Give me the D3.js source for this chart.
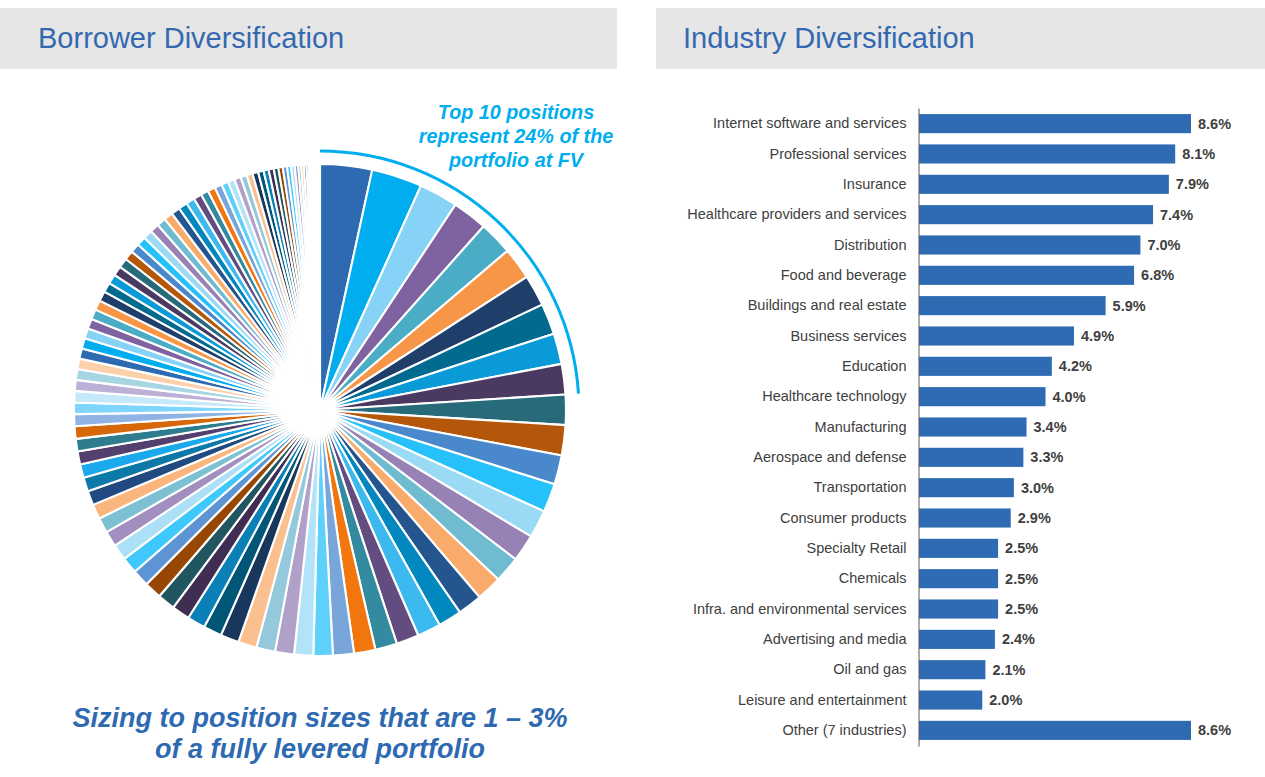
<!DOCTYPE html>
<html>
<head>
<meta charset="utf-8">
<script src="https://cdn.jsdelivr.net/npm/d3@7"></script>
<style>
  body { margin: 0; background: #fff; }
  svg { display: block; font-family: "Liberation Sans", Arial, sans-serif; }
</style>
</head>
<body>
<svg id="chart" width="1265" height="777"></svg>
<script>
/*** DATA ***/
// borrower position sizes (% of portfolio at FV), largest first
var positionSizes = [
  3.42, 3.33, 2.56, 2.31, 2.22, 2.11, 2.06, 2.03, 2.03, 2.00,
  1.99, 1.99, 1.93, 1.88, 1.84, 1.79, 1.73, 1.67, 1.61, 1.55,
  1.55, 1.49, 1.44, 1.41, 1.38, 1.28, 1.25, 1.25, 1.24, 1.22,
  1.22, 1.21, 1.19, 1.18, 1.17, 1.14, 1.11, 1.08, 1.06, 1.03,
  1.00, 0.97, 0.94, 0.92, 0.89, 0.86, 0.83, 0.82, 0.79, 0.76,
  0.75, 0.72, 0.71, 0.69, 0.68, 0.68, 0.67, 0.66, 0.66, 0.65,
  0.65, 0.64, 0.64, 0.63, 0.63, 0.62, 0.61, 0.61, 0.60, 0.60,
  0.59, 0.59, 0.58, 0.58, 0.57, 0.53, 0.51, 0.49, 0.48, 0.46,
  0.44, 0.43, 0.41, 0.39, 0.38, 0.36, 0.34, 0.33, 0.31, 0.29,
  0.28, 0.26, 0.24, 0.23, 0.19, 0.18, 0.17, 0.15, 0.14, 0.13,
  0.11, 0.10, 0.08, 0.07, 0.06, 0.04
];
var topPositions = 10;

// slice colours, repeated in this order
var sliceColors = [
  '#2e6ab1', '#00aeef', '#86d3f7', '#7f63a1', '#4bacc6', '#f79646',
  '#1f3f6a', '#006b8f', '#0a9ad8', '#4a3960', '#276b7b', '#b5570a',
  '#4a88cc', '#26c1fb', '#9bdaf5', '#9781b5', '#6fbcd1', '#f9ab6c',
  '#24558f', '#0088bf', '#3cb9ef', '#634d80', '#348a9f', '#f1760d',
  '#78a6da', '#5dd0fb', '#b2e3f8', '#b1a0c8', '#93c9da', '#fac090',
  '#19365c', '#005676', '#0a80b6', '#3f2e52', '#215661', '#984604',
  '#5d95d4', '#3ec8fc', '#ace0f7', '#a28fbf', '#7dc0d3', '#fbb67d',
  '#214a80', '#0c79a8', '#1aa9ec', '#54406e', '#2e7d8e', '#d6680a',
  '#8fb4e3', '#7fd5fb', '#c5e9fa', '#bcb0d6', '#a7d6e2', '#fcd0aa'
];

var industries = [
  'Internet software and services', 'Professional services', 'Insurance',
  'Healthcare providers and services', 'Distribution', 'Food and beverage',
  'Buildings and real estate', 'Business services', 'Education',
  'Healthcare technology', 'Manufacturing', 'Aerospace and defense',
  'Transportation', 'Consumer products', 'Specialty Retail', 'Chemicals',
  'Infra. and environmental services', 'Advertising and media', 'Oil and gas',
  'Leisure and entertainment', 'Other (7 industries)'
];
var industryShares = [8.6, 8.1, 7.9, 7.4, 7.0, 6.8, 5.9, 4.9, 4.2, 4.0, 3.4,
  3.3, 3.0, 2.9, 2.5, 2.5, 2.5, 2.4, 2.1, 2.0, 8.6];

var titleBlue = '#2e6ab1';
var textGrey = '#404040';

var svg = d3.select('#chart');

/*** PANEL HEADERS ***/
function createHeader(x, w, textX, title) {
  svg.append('rect')
    .attr('x', x).attr('y', 8)
    .attr('width', w).attr('height', 61)
    .attr('fill', '#e6e6e6');
  svg.append('text')
    .attr('x', textX).attr('y', 48)
    .attr('font-size', 29)
    .attr('fill', '#3469b0')
    .text(title);
}
createHeader(0, 617, 38, 'Borrower Diversification');
createHeader(656, 609, 683, 'Industry Diversification');

/*** BORROWER PIE ***/
var cx = 320, cy = 410, radius = 246;

var pie = d3.pie().sort(null).value(function(d) { return d; });
var slices = pie(positionSizes);
var arc = d3.arc().innerRadius(0).outerRadius(radius);

var pieG = svg.append('g')
  .attr('transform', 'translate(' + cx + ',' + cy + ')');

pieG.selectAll('path.slice')
  .data(slices)
  .enter().append('path')
  .attr('class', 'slice')
  .attr('d', arc)
  .attr('fill', function(d, i) { return sliceColors[i % sliceColors.length]; })
  .attr('stroke', '#fff')
  .attr('stroke-width', 2.1)
  .attr('stroke-linejoin', 'round');

//top 10 bracket
var topEnd = slices[topPositions - 1].endAngle;
pieG.append('path')
  .attr('d', d3.arc().innerRadius(257.5).outerRadius(260.5).startAngle(0).endAngle(topEnd)())
  .attr('fill', '#00aeef');

var note = svg.append('text')
  .attr('text-anchor', 'middle')
  .attr('font-size', 19.8)
  .attr('font-weight', 'bold')
  .attr('font-style', 'italic')
  .attr('fill', '#00aeef');
var topShare = d3.sum(positionSizes.slice(0, topPositions));
['Top ' + topPositions + ' positions',
 'represent ' + Math.round(topShare) + '% of the',
 'portfolio at FV'].forEach(function(line, i) {
  note.append('tspan').attr('x', 516).attr('y', 119 + i * 24).text(line);
});

var sizing = svg.append('text')
  .attr('text-anchor', 'middle')
  .attr('font-size', 27)
  .attr('font-weight', 'bold')
  .attr('font-style', 'italic')
  .attr('fill', titleBlue);
['Sizing to position sizes that are 1 \u2013 3%',
 'of a fully levered portfolio'].forEach(function(line, i) {
  sizing.append('tspan').attr('x', 320).attr('y', 727 + i * 31).text(line);
});

/*** INDUSTRY BARS ***/
var x0 = 919;
var x = d3.scaleLinear().domain([0, 8.6]).range([x0, 1191]);
var y = d3.scaleBand().domain(industries).range([108, 746]).paddingInner(0.37).paddingOuter(0.2);

var barG = svg.append('g');

barG.selectAll('rect.bar')
  .data(industries)
  .enter().append('rect')
  .attr('class', 'bar')
  .attr('x', x(0))
  .attr('y', function(d) { return y(d); })
  .attr('width', function(d, i) { return x(industryShares[i]) - x(0); })
  .attr('height', y.bandwidth())
  .attr('fill', '#2e6bb3');

var yAxis = d3.axisLeft(y).tickSize(0).tickPadding(12);
var axisG = barG.append('g')
  .attr('transform', 'translate(' + (x0 - 0.5) + ',0)')
  .call(yAxis);
axisG.select('.domain').attr('stroke', '#595959').attr('stroke-width', 1);
axisG.selectAll('.tick text')
  .attr('font-size', 14.5)
  .attr('font-family', '"Liberation Sans", Arial, sans-serif')
  .attr('fill', textGrey);

barG.selectAll('text.value')
  .data(industries)
  .enter().append('text')
  .attr('class', 'value')
  .attr('x', function(d, i) { return x(industryShares[i]) + 7; })
  .attr('y', function(d) { return y(d) + y.bandwidth() / 2; })
  .attr('dy', '0.35em')
  .attr('font-size', 14.5)
  .attr('font-weight', 'bold')
  .attr('fill', textGrey)
  .text(function(d, i) { return industryShares[i].toFixed(1) + '%'; });
</script>
</body>
</html>
